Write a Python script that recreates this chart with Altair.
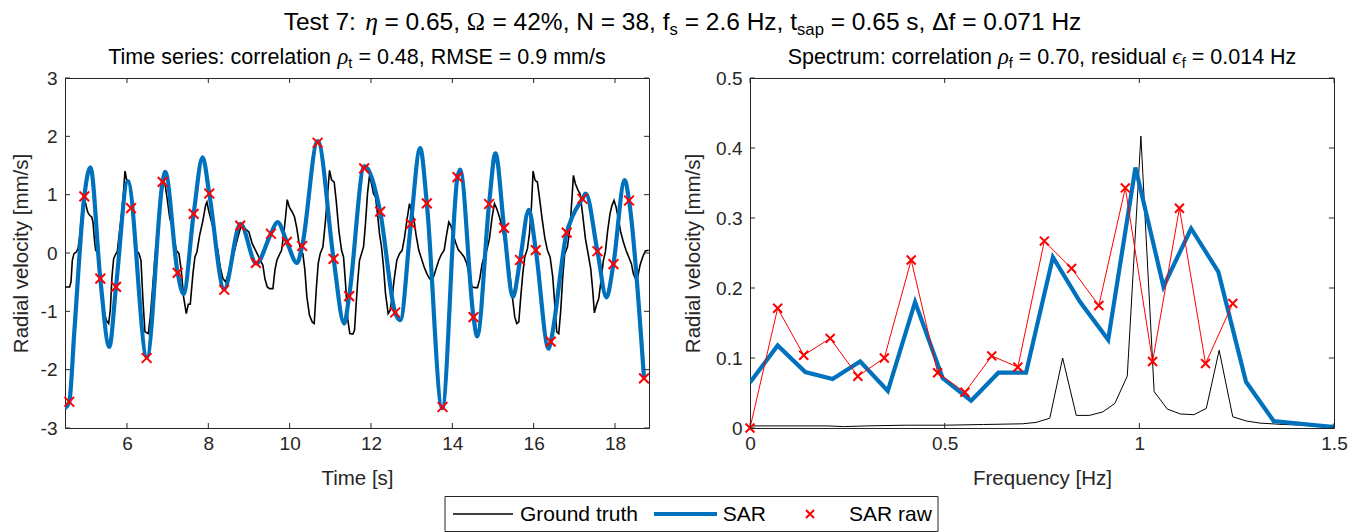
import altair as alt
import pandas as pd

# ---------------- data ----------------
# Ground truth time series (black)
gt_time = [
    4.468, 4.591, 4.624, 4.656, 4.697, 4.755, 4.796, 4.837, 4.878, 4.919,
    4.951, 4.984, 5.033, 5.082, 5.132, 5.164, 5.197, 5.230, 5.271, 5.312,
    5.369, 5.426, 5.492, 5.549, 5.590, 5.631, 5.672, 5.721, 5.762, 5.820,
    5.869, 5.918, 5.951, 5.992, 6.057, 6.106, 6.164, 6.229, 6.295, 6.344,
    6.393, 6.442, 6.524, 6.573, 6.639, 6.688, 6.737, 6.786, 6.835, 6.885,
    6.934, 6.983, 7.048, 7.130, 7.212, 7.278, 7.335, 7.392, 7.458, 7.507,
    7.556, 7.622, 7.671, 7.720, 7.786, 7.868, 7.933, 7.966, 8.007, 8.048,
    8.113, 8.179, 8.236, 8.293, 8.359, 8.425, 8.490, 8.564, 8.646, 8.728,
    8.793, 8.851, 8.916, 8.998, 9.080, 9.162, 9.260, 9.342, 9.391, 9.449,
    9.506, 9.588, 9.637, 9.686, 9.752, 9.801, 9.850, 9.899, 9.940, 9.998,
    10.063, 10.120, 10.178, 10.227, 10.276, 10.325, 10.375, 10.423, 10.488, 10.554,
    10.604, 10.653, 10.702, 10.751, 10.817, 10.882, 10.940, 10.981, 11.030, 11.095,
    11.144, 11.210, 11.276, 11.325, 11.374, 11.431, 11.480, 11.554,
    11.595, 11.636, 11.669, 11.718, 11.767, 11.816, 11.865, 11.914, 11.964, 12.013,
    12.062, 12.111, 12.160, 12.209, 12.259, 12.308, 12.357, 12.422, 12.472, 12.521,
    12.578, 12.635, 12.701, 12.766, 12.824, 12.889, 12.947, 12.996, 13.053, 13.110,
    13.176, 13.242, 13.307, 13.373, 13.438, 13.487, 13.545, 13.602, 13.667, 13.733,
    13.799, 13.856, 13.913, 13.962, 14.012, 14.077, 14.143, 14.216, 14.290, 14.356,
    14.421, 14.487, 14.552, 14.618, 14.675, 14.733, 14.790, 14.847, 14.913, 14.978,
    15.036, 15.093, 15.158, 15.224, 15.290, 15.355, 15.421, 15.486, 15.535, 15.585,
    15.634, 15.683, 15.732, 15.781, 15.847, 15.896, 15.945, 15.986, 16.035, 16.092,
    16.141, 16.207, 16.273, 16.338, 16.404, 16.469, 16.518, 16.567, 16.617, 16.666,
    16.715, 16.764, 16.830, 16.895, 16.944, 16.977, 17.026, 17.092, 17.141, 17.207,
    17.272, 17.338, 17.403, 17.452, 17.493, 17.542, 17.600, 17.657, 17.714, 17.763,
    17.821, 17.878, 17.927, 17.976, 18.026, 18.075, 18.140, 18.206, 18.271, 18.337,
    18.403, 18.452, 18.501, 18.558, 18.615, 18.681, 18.746, 18.828,
]
gt_vel = [
    -0.582, -0.582, -0.496, -0.125, -0.011, 0.018, 0.075, 0.275, 0.588, 0.845,
    0.931, 0.845, 0.703, 0.646, 0.617, 0.531, 0.246, 0.046, 0.018, -0.211,
    -0.696, -0.981, -1.152, -1.209, -0.981, -0.410, -0.097, -0.022, 0.029, 0.389,
    0.674, 1.074, 1.405, 1.256, 1.233, 0.902, 0.446, 0.046, -0.011, -0.125,
    -0.810, -1.352, -1.381, -1.095, -0.525, -0.068, 0.275, 0.617, 0.959, 1.273,
    1.188, 0.959, 0.617, 0.389, 0.046, -0.011, -0.297, -0.753, -1.038, -0.879,
    -0.879, -0.354, -0.068, 0.018, 0.303, 0.560, 0.817, 0.874, 0.731, 0.617,
    0.446, 0.189, 0.046, -0.240, -0.439, -0.496, -0.354, -0.182, 0.046, 0.275,
    0.434, 0.457, 0.412, 0.360, 0.160, 0.046, -0.097, -0.211, -0.439, -0.582,
    -0.610, -0.610, -0.297, -0.125, -0.022, 0.046, 0.303, 0.617, 0.914, 0.777,
    0.703, 0.617, 0.417, 0.189, 0.046, -0.011, -0.297, -0.753, -1.067, -1.181,
    -1.209, -0.639, -0.182, -0.011, 0.103, 0.560, 1.074, 1.416, 1.256, 1.216,
    0.902, 0.389, 0.046, -0.068, -0.525, -1.152, -1.381, -1.392,
    -1.324, -0.867, -0.525, -0.125, -0.011, 0.103, 0.503, 1.017, 1.331, 1.188,
    1.017, 0.959, 0.674, 0.332, 0.103, -0.240, -0.696, -1.038, -0.981, -0.753,
    -0.410, -0.125, -0.011, 0.046, 0.263, 0.588, 0.845, 0.720, 0.588, 0.303,
    0.046, -0.097, -0.240, -0.354, -0.439, -0.468, -0.399, -0.268, -0.125, -0.022,
    0.046, 0.303, 0.531, 0.474, 0.343, 0.189, 0.058, 0.001, -0.068, -0.182,
    -0.410, -0.582, -0.593, -0.593, -0.439, -0.182, -0.057, 0.046, 0.246, 0.617,
    0.845, 0.760, 0.617, 0.446, 0.189, -0.068, -0.410, -0.810, -1.095, -1.209,
    -1.181, -0.753, -0.354, -0.068, 0.075, 0.332, 0.788, 1.405, 1.245, 1.216,
    0.959, 0.588, 0.263, 0.046, -0.068, -0.410, -0.867, -1.352, -1.381, -0.981,
    -0.410, -0.011, 0.103, 0.446, 0.959, 1.331, 1.188, 1.074, 1.017, 0.645,
    0.246, -0.011, -0.268, -0.639, -1.027, -0.896, -0.782, -0.468, -0.125, 0.018,
    0.389, 0.674, 0.817, 0.902, 0.788, 0.617, 0.360, 0.189, 0.046, -0.068,
    -0.182, -0.354, -0.439, -0.410, -0.211, -0.068, 0.034, 0.046,
]

# SAR reconstructed time series (blue) - vertices
sar_time = [
    4.476, 4.582, 4.705, 4.951, 5.10, 5.344, 5.565, 5.730, 6.02, 6.49,
    6.877, 6.94, 7.246, 7.39, 7.639, 7.86, 8.023, 8.39, 8.79, 9.18,
    9.539, 9.70, 9.932, 10.18, 10.308, 10.69, 11.080, 11.34, 11.463, 11.84,
    12.225, 12.594, 12.72, 12.980, 13.21, 13.373, 13.75, 14.127, 14.19, 14.521,
    14.61, 14.904, 15.06, 15.273, 15.49, 15.666, 15.88, 16.052, 16.37, 16.420,
    16.813, 16.95, 17.199, 17.28, 17.568, 17.79, 17.961, 18.24, 18.345, 18.713,
]
sar_vel = [
    -2.66, -2.55, -1.35, 0.97, 1.47, -0.44, -1.61, -0.58, 1.23, -1.79,
    1.22, 1.39, -0.34, -0.70, 0.67, 1.64, 1.02, -0.62, 0.50, -0.18,
    0.33, 0.53, 0.19, -0.17, 0.12, 1.92, -0.10, -1.21, -0.74, 1.49,
    0.71, -1.02, -1.15, 0.50, 1.80, 0.85, -2.66, 1.30, 1.43, -1.10,
    -1.43, 0.84, 1.71, 0.43, -0.75, -0.12, 0.74, 0.05, -1.64, -1.52,
    0.35, 0.62, 0.93, 1.02, 0.03, -0.76, -0.19, 1.25, 0.90, -2.15,
]

# SAR raw samples (red crosses)
raw_time = [
    4.582, 4.951, 5.344, 5.730, 6.098, 6.484, 6.877, 7.246, 7.639, 8.023,
    8.391, 8.784, 9.170, 9.539, 9.932, 10.308, 10.687, 11.080, 11.463, 11.832,
    12.225, 12.594, 12.980, 13.373, 13.759, 14.127, 14.521, 14.904, 15.273, 15.666,
    16.052, 16.420, 16.813, 17.199, 17.568, 17.961, 18.345, 18.713,
]
raw_vel = [
    -2.55, 0.97, -0.44, -0.58, 0.77, -1.80, 1.22, -0.34, 0.67, 1.02,
    -0.63, 0.47, -0.17, 0.33, 0.19, 0.12, 1.89, -0.10, -0.74, 1.45,
    0.71, -1.02, 0.50, 0.85, -2.64, 1.30, -1.10, 0.84, 0.43, -0.12,
    0.05, -1.52, 0.35, 0.93, 0.03, -0.19, 0.90, -2.15,
]

# Spectrum: ground truth (black)
spec_gt_freq = [0.000, 0.100, 0.200, 0.240, 0.300, 0.400, 0.500, 0.600, 0.700, 0.735,
                0.770, 0.803, 0.838, 0.872, 0.906, 0.937, 0.969, 1.004, 1.038, 1.072,
                1.106, 1.140, 1.172, 1.205, 1.240, 1.275, 1.310, 1.370, 1.430, 1.500]
spec_gt_amp = [0.003, 0.003, 0.003, 0.002, 0.003, 0.004, 0.004, 0.005, 0.006, 0.008,
               0.014, 0.100, 0.018, 0.018, 0.023, 0.035, 0.074, 0.417, 0.052, 0.027,
               0.020, 0.019, 0.028, 0.111, 0.016, 0.010, 0.007, 0.005, 0.004, 0.003]

# Spectrum: SAR (blue)
spec_sar_freq = [0.000, 0.071, 0.142, 0.212, 0.283, 0.354, 0.424, 0.495, 0.568, 0.638,
                 0.709, 0.778, 0.848, 0.920, 0.990, 1.062, 1.133, 1.203, 1.274, 1.345,
                 1.415, 1.488, 1.500]
spec_sar_amp = [0.065, 0.118, 0.080, 0.070, 0.095, 0.053, 0.180, 0.071, 0.039, 0.079,
                0.079, 0.244, 0.180, 0.126, 0.372, 0.202, 0.285, 0.223, 0.066, 0.010,
                0.006, 0.002, 0.002]

# Spectrum: SAR raw (red)
spec_raw_freq = [0.000, 0.071, 0.138, 0.206, 0.277, 0.345, 0.414, 0.482, 0.552, 0.621,
                 0.688, 0.756, 0.826, 0.896, 0.964, 1.034, 1.103, 1.170, 1.240]
spec_raw_amp = [0.000, 0.171, 0.104, 0.128, 0.074, 0.100, 0.240, 0.079, 0.051, 0.103,
                0.087, 0.267, 0.228, 0.175, 0.343, 0.095, 0.314, 0.092, 0.178]

# axis ticks
time_ticks = [6, 8, 10, 12, 14, 16, 18]
vel_ticks = [-3, -2, -1, 0, 1, 2, 3]
freq_ticks = [0, 0.5, 1, 1.5]
amp_ticks = [0, 0.1, 0.2, 0.3, 0.4, 0.5]

legend_labels = ["Ground truth", "SAR", "SAR raw"]

# ---------------- style ----------------
W, H = 584, 350
AX = "#262626"
BLUE = "#0072BD"
RED = "#FF0000"
FONT = "Liberation Sans"
GFONT = "Liberation Serif"
XSHAPE = "M-1,-1L1,1M-1,1L1,-1"
LBL = "'' + datum.value"
TITLE_FS = 21.5
MAIN_FS = 24.5
SUB = 0.68

ARIAL = {" ": 278, ",": 278, ".": 278, ":": 278, "%": 889, "=": 584, "/": 278,
         "[": 278, "]": 278, "Δ": 668,
         "T": 611, "N": 722, "H": 722, "R": 722, "M": 833, "S": 667, "E": 667,
         "a": 556, "b": 556, "c": 500, "d": 556, "e": 556, "f": 278, "g": 556,
         "h": 556, "i": 222, "k": 500, "l": 222, "m": 833, "n": 556, "o": 556,
         "p": 556, "q": 556, "r": 333, "s": 500, "t": 278, "u": 556, "v": 500,
         "w": 722, "x": 500, "y": 500, "z": 500}
for _d in "0123456789":
    ARIAL[_d] = 556
GREEK = {"η": 500, "ρ": 500, "ϵ": 440, "Ω": 768}

one = pd.DataFrame({"k": [0]})


def seg_width(s, kind, size):
    if kind in ("gi", "gu"):
        return sum(GREEK.get(c, 600) for c in s) / 1000 * size
    fs = size * SUB if kind == "sub" else size
    return sum(ARIAL.get(c, 556) for c in s) / 1000 * fs


def rich_title(segs, cx, y, size):
    widths = [seg_width(s, k, size) for s, k in segs]
    x = cx - sum(widths) / 2
    out = []
    for (s, k), w in zip(segs, widths):
        props = dict(align="left", baseline="alphabetic", color="black")
        yy = y
        if k == "sub":
            fs = size * SUB
            props.update(font=FONT, fontSize=fs)
            yy = y + size * 0.2
        elif k == "gi":
            fs = size
            props.update(font=GFONT, fontSize=size * 1.05, fontStyle="italic")
        elif k == "gu":
            fs = size
            props.update(font=GFONT, fontSize=size)
        else:
            fs = size
            props.update(font=FONT, fontSize=size)
        lead = len(s) - len(s.lstrip(" "))
        txt = s.strip(" ")
        if txt:
            out.append(
                alt.Chart(one).mark_text(text=txt, **props).encode(
                    x=alt.value(x + lead * ARIAL[" "] / 1000 * fs), y=alt.value(yy)
                )
            )
        x += w
    return out


# ---------------- left panel: time series ----------------
df_gt = pd.DataFrame({"t": gt_time, "v": gt_vel})
df_sar = pd.DataFrame({"t": sar_time, "v": sar_vel})
df_raw = pd.DataFrame({"t": raw_time, "v": raw_vel})

t_scale = alt.Scale(domain=[4.476, 18.836], nice=False, zero=False)
v_scale = alt.Scale(domain=[-3, 3], nice=False, zero=False)
xl = alt.X("t:Q", scale=t_scale,
           axis=alt.Axis(values=time_ticks, title="Time [s]", labelExpr=LBL))
yl = alt.Y("v:Q", scale=v_scale,
           axis=alt.Axis(values=vel_ticks, title="Radial velocity [mm/s]", labelExpr=LBL,
                         titlePadding=9))

gt_l = alt.Chart(df_gt).mark_line(color="black", strokeWidth=1.6, clip=True).encode(x=xl, y=yl)
sar_l = alt.Chart(df_sar).mark_line(color=BLUE, strokeWidth=4.2, interpolate="monotone",
                                    clip=True).encode(x=xl, y=yl)
raw_l = alt.Chart(df_raw).mark_point(shape=XSHAPE, color=RED, size=95, strokeWidth=2,
                                     filled=False, opacity=1).encode(x=xl, y=yl)

df_tt = pd.DataFrame({"t": time_ticks})
df_vt = pd.DataFrame({"v": vel_ticks})
ticks_l = [
    alt.Chart(df_tt).mark_rule(color=AX, strokeWidth=1).encode(x=xl, y=alt.value(H), y2=alt.value(H - 5)),
    alt.Chart(df_tt).mark_rule(color=AX, strokeWidth=1).encode(x=xl, y=alt.value(0), y2=alt.value(5)),
    alt.Chart(df_vt).mark_rule(color=AX, strokeWidth=1).encode(y=yl, x=alt.value(0), x2=alt.value(5)),
    alt.Chart(df_vt).mark_rule(color=AX, strokeWidth=1).encode(y=yl, x=alt.value(W), x2=alt.value(W - 5)),
]

main_title = rich_title(
    [("Test 7: ", "n"), ("η", "gi"), (" = 0.65, ", "n"), ("Ω", "gu"),
     (" = 42%, N = 38, f", "n"), ("s", "sub"), (" = 2.6 Hz, t", "n"), ("sap", "sub"),
     (" = 0.65 s, Δf = 0.071 Hz", "n")],
    617.5, -48, MAIN_FS)
left_title = rich_title(
    [("Time series: correlation ", "n"), ("ρ", "gi"), ("t", "sub"),
     (" = 0.48, RMSE = 0.9 mm/s", "n")],
    W / 2, -14, TITLE_FS)

LEG_FS = 21
legend = [
    alt.Chart(one).mark_rect(fill="white", stroke=AX, strokeWidth=1).encode(
        x=alt.value(380), x2=alt.value(873), y=alt.value(418.5), y2=alt.value(453.5)),
    alt.Chart(one).mark_rule(color="black", strokeWidth=1.6).encode(
        x=alt.value(388), x2=alt.value(448), y=alt.value(436)),
    alt.Chart(one).mark_rule(color=BLUE, strokeWidth=4.2).encode(
        x=alt.value(589), x2=alt.value(652), y=alt.value(436)),
    alt.Chart(one).mark_point(shape=XSHAPE, color=RED, size=64, strokeWidth=2, filled=False,
                              opacity=1).encode(x=alt.value(745), y=alt.value(436)),
    alt.Chart(one).mark_text(text=legend_labels[0], align="left", baseline="middle", font=FONT,
                             fontSize=LEG_FS, color="black").encode(x=alt.value(455), y=alt.value(437)),
    alt.Chart(one).mark_text(text=legend_labels[1], align="left", baseline="middle", font=FONT,
                             fontSize=LEG_FS, color="black").encode(x=alt.value(657.7), y=alt.value(437)),
    alt.Chart(one).mark_text(text=legend_labels[2], align="left", baseline="middle", font=FONT,
                             fontSize=LEG_FS, color="black").encode(x=alt.value(784), y=alt.value(437)),
]

left = alt.layer(gt_l, sar_l, raw_l, *ticks_l, *main_title, *left_title, *legend).properties(
    width=W, height=H)

# ---------------- right panel: spectrum ----------------
df_sgt = pd.DataFrame({"f": spec_gt_freq, "a": spec_gt_amp})
df_ssar = pd.DataFrame({"f": spec_sar_freq, "a": spec_sar_amp})
df_sraw = pd.DataFrame({"f": spec_raw_freq, "a": spec_raw_amp})

f_scale = alt.Scale(domain=[0, 1.5], nice=False, zero=False)
a_scale = alt.Scale(domain=[0, 0.5], nice=False, zero=False)
xr = alt.X("f:Q", scale=f_scale,
           axis=alt.Axis(values=freq_ticks, title="Frequency [Hz]", labelExpr=LBL))
yr = alt.Y("a:Q", scale=a_scale,
           axis=alt.Axis(values=amp_ticks, title="Radial velocity [mm/s]", labelExpr=LBL,
                         titlePadding=12))

sgt = alt.Chart(df_sgt).mark_line(color="black", strokeWidth=1, clip=True).encode(x=xr, y=yr)
ssar = alt.Chart(df_ssar).mark_line(color=BLUE, strokeWidth=4.2, clip=True).encode(x=xr, y=yr)
sraw_line = alt.Chart(df_sraw).mark_line(color=RED, strokeWidth=1, clip=True).encode(x=xr, y=yr)
sraw_pts = alt.Chart(df_sraw).mark_point(shape=XSHAPE, color=RED, size=80, strokeWidth=2,
                                         filled=False, opacity=1).encode(x=xr, y=yr)

df_ft = pd.DataFrame({"f": freq_ticks})
df_at = pd.DataFrame({"a": amp_ticks})
ticks_r = [
    alt.Chart(df_ft).mark_rule(color=AX, strokeWidth=1).encode(x=xr, y=alt.value(H), y2=alt.value(H - 5)),
    alt.Chart(df_ft).mark_rule(color=AX, strokeWidth=1).encode(x=xr, y=alt.value(0), y2=alt.value(5)),
    alt.Chart(df_at).mark_rule(color=AX, strokeWidth=1).encode(y=yr, x=alt.value(0), x2=alt.value(5)),
    alt.Chart(df_at).mark_rule(color=AX, strokeWidth=1).encode(y=yr, x=alt.value(W), x2=alt.value(W - 5)),
]

right_title = rich_title(
    [("Spectrum: correlation ", "n"), ("ρ", "gi"), ("f", "sub"), (" = 0.70, residual ", "n"),
     ("ϵ", "gi"), ("f", "sub"), (" = 0.014 Hz", "n")],
    W / 2, -14, TITLE_FS)

right = alt.layer(sgt, ssar, sraw_line, sraw_pts, *ticks_r, *right_title).properties(
    width=W, height=H)

chart = (
    alt.hconcat(left, right, spacing=101, bounds="flush")
    .properties(padding={"left": 2, "top": 0, "right": 5, "bottom": 0})
    .configure_view(stroke=AX, strokeWidth=1)
    .configure_axis(domain=False, ticks=False, grid=False, labelFont=FONT, labelFontSize=19,
                    labelColor=AX, titleFont=FONT, titleFontSize=20.5, titleFontWeight="normal",
                    titleColor=AX, labelFlush=False, labelOverlap=False)
    .configure_axisX(labelPadding=6, titlePadding=15)
    .configure_axisY(labelPadding=8)
)

chart.save("out.html", embed_options={"renderer": "svg", "actions": False})
